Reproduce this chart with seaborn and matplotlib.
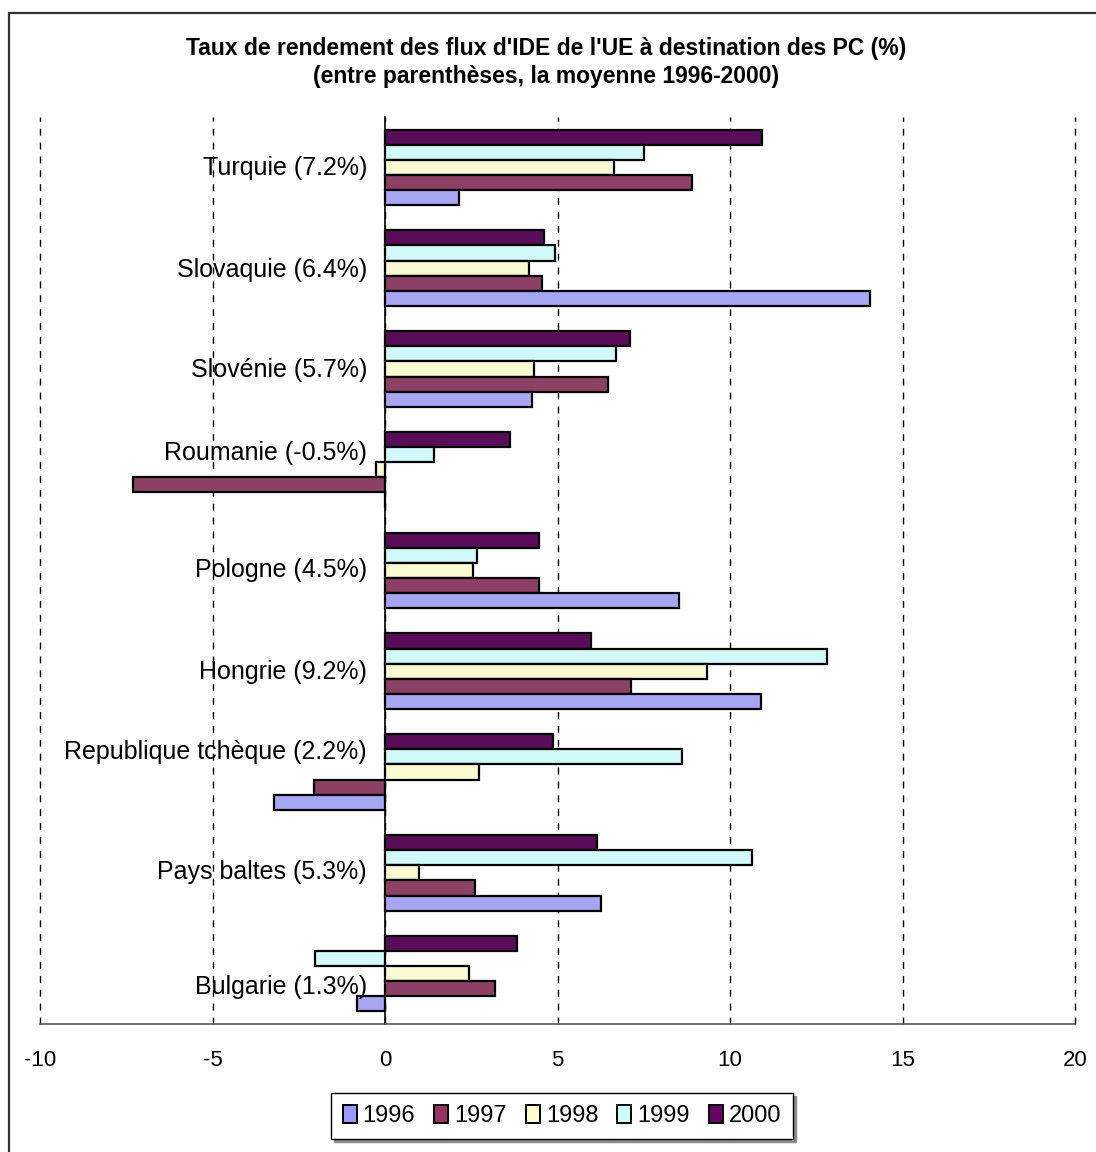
import numpy as np
import pandas as pd
import matplotlib
matplotlib.use("Agg")
import matplotlib.pyplot as plt
from matplotlib.patches import Patch, Rectangle
from matplotlib.transforms import offset_copy
import seaborn as sns

cats = ['Turquie (7.2%)', 'Slovaquie (6.4%)', 'Slovénie (5.7%)', 'Roumanie (-0.5%)',
        'Pologne (4.5%)', 'Hongrie (9.2%)', 'Republique tchèque (2.2%)',
        'Pays baltes (5.3%)', 'Bulgarie (1.3%)']
years = ['1996', '1997', '1998', '1999', '2000']
v1996 = [2.15, 14.05, 4.25, 0.0, 8.52, 10.89, -3.23, 6.26, -0.80]
v1997 = [8.90, 4.55, 6.46, -7.30, 4.46, 7.13, -2.06, 2.61, 3.19]
v1998 = [6.64, 4.18, 4.31, -0.27, 2.54, 9.32, 2.72, 0.98, 2.44]
v1999 = [7.50, 4.94, 6.70, 1.41, 2.67, 12.81, 8.62, 10.65, -2.03]
v2000 = [10.94, 4.60, 7.11, 3.62, 4.46, 5.98, 4.88, 6.15, 3.83]
colors = ['#9999FF', '#993366', '#FFFFCC', '#CCFFFF', '#660066']
# décalage vertical (px) des libellés, comme Excel les place pour éviter les barres
label_dy = [-1, -2, -1, 17, 0, -1, 20, 1, -13]

vals = dict(zip(years, [v1996, v1997, v1998, v1999, v2000]))
df = pd.DataFrame([(c, y, vals[y][i]) for y in years for i, c in enumerate(cats)],
                  columns=['pays', 'annee', 'taux'])
pal = dict(zip(years, colors))

sns.set_style("white")
plt.rcParams['font.family'] = ['Liberation Sans', 'DejaVu Sans']
plt.rcParams['text.color'] = 'black'
plt.rcParams['xtick.color'] = 'black'
plt.rcParams['ytick.color'] = 'black'
plt.rcParams['axes.unicode_minus'] = False

fig = plt.figure(figsize=(10.96, 11.52), dpi=100)
ax = fig.add_axes([40/1096, 1-1024/1152, 1035/1096, 907/1152])

# 2000 en haut de chaque groupe, 1996 en bas
sns.barplot(data=df, x='taux', y='pays', hue='annee', order=cats,
            hue_order=years[::-1], palette=pal, orient='h', width=0.75,
            edgecolor='black', linewidth=1.6, legend=False, ax=ax)

ax.set_xlim(-10, 20)
ax.set_ylim(len(cats) - 0.5, -0.5)
ax.set_xticks(np.arange(-10, 21, 5))
ax.set_xlabel('')
ax.set_ylabel('')
ax.grid(False)
for xv in ax.get_xticks():
    ax.axvline(xv, linestyle=(0, (5, 5)), color='black', linewidth=1,
               zorder=0.5, clip_on=False)

for s in ['top', 'right']:
    ax.spines[s].set_visible(False)
ax.spines['left'].set_position(('data', 0))
ax.spines['left'].set_color('black')
ax.spines['left'].set_linewidth(1.2)
ax.spines['bottom'].set_color('0.35')
ax.spines['bottom'].set_linewidth(1.2)

ax.set_yticks(np.arange(len(cats)))
ax.set_yticklabels([])
ax.set_yticks(np.arange(-0.5, len(cats), 1.0), minor=True)
ax.tick_params(axis='y', which='major', length=0)
ax.tick_params(axis='y', which='minor', length=5, direction='out', color='0.4', width=1.2)
ax.tick_params(axis='x', which='major', length=9, direction='out', color='0.35',
               width=1, labelsize=16, pad=10)
ax.tick_params(axis='x', which='minor', length=0)

for i, (lab, dy) in enumerate(zip(cats, label_dy)):
    tr = offset_copy(ax.transData, fig=fig, x=-18, y=dy, units='dots')
    ax.text(0, i, lab, transform=tr, ha='right', va='center', fontsize=18, zorder=6)

fig.text(546/1096, 1-48/1152,
         "Taux de rendement des flux d'IDE de l'UE à destination des PC (%)",
         ha='center', va='center', fontsize=16.5, fontweight='bold')
fig.text(546/1096, 1-77/1152, "(entre parenthèses, la moyenne 1996-2000)",
         ha='center', va='center', fontsize=16.5, fontweight='bold')

handles = [Patch(facecolor=c, edgecolor='black', linewidth=1.4, label=y)
           for y, c in zip(years, colors)]
leg = fig.legend(handles=handles, loc='center', bbox_to_anchor=(562/1096, 1-1116/1152),
                 ncol=5, fontsize=17, frameon=True, fancybox=False,
                 edgecolor='black', handlelength=0.6, handleheight=0.8,
                 handletextpad=0.25, columnspacing=0.8, borderpad=0.5,
                 shadow={'color': '0.55', 'alpha': 1})
leg.get_frame().set_linewidth(1.0)

fig.patches.append(Rectangle((9/1096, -0.1), 1.2, 1 - 13/1152 + 0.1,
                             transform=fig.transFigure, fill=False,
                             edgecolor='#333333', linewidth=1.6))

fig.savefig('out.png', dpi=100)
